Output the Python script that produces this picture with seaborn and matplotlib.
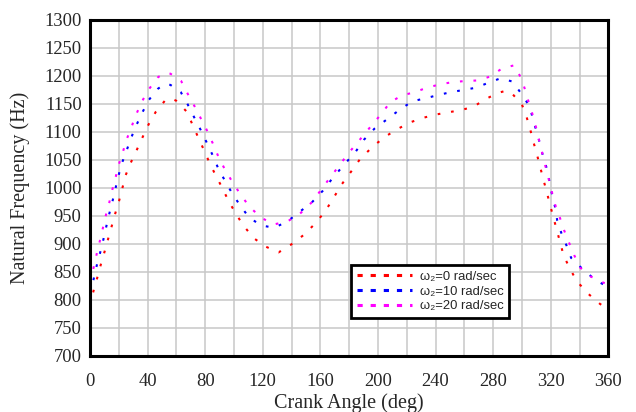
# Natural frequency vs crank angle for three shaft speeds
import seaborn as sns
import pandas as pd
import matplotlib.pyplot as plt
from matplotlib.lines import Line2D
from matplotlib.ticker import MultipleLocator

# omega2 = 0 rad/sec
angle_w0 = [0, 2.8, 5.3, 7.7, 10.2, 12.7, 15.1, 17.6, 20.2, 22.5, 24.8, 28.3, 32.5, 36.4,
            40.6, 45.7, 52.4, 56, 59.8, 67.3, 71.2, 75.2, 79.1, 83, 87.2, 91.9, 96, 101.1,
            106.5, 113.9, 122.3, 131, 139.7, 148.4, 157, 164, 169.3, 174.7, 181, 187.4, 196,
            204.6, 213.4, 222.2, 231, 239.9, 248.6, 257.5, 266.3, 274.9, 283.7, 288, 292.3,
            300, 303.2, 305.7, 308, 310.4, 312.7, 315, 317.3, 319.6, 322, 324.3, 326.6, 329,
            333.3, 338, 345.6, 354.2, 360]
freq_w0 = [790, 820, 842, 865, 887, 910, 932, 955, 977, 1000, 1023, 1045, 1068, 1090,
           1113, 1136, 1157, 1160, 1156, 1136, 1113, 1090, 1068, 1045, 1023, 1000, 978, 955,
           933, 910, 895, 885, 899, 916, 938, 961, 983, 1006, 1028, 1051, 1073,
           1091, 1105, 1117, 1125, 1131, 1135, 1139, 1145, 1159, 1170, 1173, 1171,
           1149, 1127, 1105, 1082, 1060, 1037, 1014, 992, 969, 946, 924, 902, 879,
           856, 834, 812, 793, 783]

# omega2 = 10 rad/sec
angle_w10 = [0, 2.8, 4.9, 7.2, 9.3, 11.3, 13.4, 15.5, 17.6, 19.7, 22, 25.3, 28.5, 32, 36.2,
             40.8, 47.1, 52, 55.9, 63.1, 67.7, 72.2, 76.8, 80.9, 85.1, 88.9, 93.5, 98.6,
             104.2, 110.6, 119, 128, 136.9, 145.4, 154, 161.7, 168.6, 176.3, 184.3, 190.2,
             197.6, 206.5, 215.2, 224, 232.9, 241.7, 250.5, 259.3, 268, 276.8, 285.3, 293.4,
             299.7, 305.5, 307.8, 310.4, 312.7, 314.8, 317.6, 319.2, 321, 323.1, 324.5,
             327.3, 331, 334.2, 342.6, 351.4, 360]
freq_w10 = [812, 840, 864, 886, 908, 931, 954, 975, 998, 1021, 1043, 1066, 1089, 1111, 1134,
            1157, 1177, 1186, 1184, 1171, 1150, 1127, 1104, 1082, 1059, 1036, 1014, 991,
            969, 947, 933, 929, 940, 957, 974, 995, 1018, 1041, 1064, 1086,
            1106, 1123, 1140, 1155, 1160, 1166, 1171, 1175, 1179, 1188, 1196, 1190,
            1168, 1145, 1121, 1099, 1077, 1055, 1032, 1010, 987, 965, 942,
            920, 897, 875, 854, 835, 823]

# omega2 = 20 rad/sec
angle_w20 = [0, 2.8, 4.9, 7, 9, 11.1, 13.4, 15.5, 17.9, 20, 22.8, 25.5, 28.8, 32.2, 36,
             40.8, 47.3, 53, 55.9, 63.3, 67.7, 72.6, 77, 81.4, 85.4, 89, 93.5, 98.8, 104.4,
             110.6, 118.8, 127.8, 136.9, 145.4, 154.3, 160, 166.3, 172.8, 179.5, 186.7,
             194.4, 201.6, 208.5, 216.4, 225.3, 234, 242.9, 251.7, 260.5, 269.3, 277.9,
             286.5, 294.6, 299.5, 302.5, 305, 307.8, 310.1, 312.2, 314.3, 316.4, 318.7,
             320.8, 323.1, 326.2, 329.2, 332.6, 336.3, 340.3, 347.7, 356.5, 360]
freq_w20 = [832, 861, 885, 907, 929, 952, 974, 997, 1020, 1042, 1064, 1087, 1109, 1132, 1154,
            1176, 1198, 1206, 1204, 1191, 1169, 1146, 1124, 1102, 1079, 1057, 1034, 1011, 989,
            967, 947, 935, 940, 953, 975, 995, 1017, 1039, 1062, 1084,
            1108, 1130, 1153, 1165, 1171, 1179, 1185, 1189, 1191, 1192, 1199,
            1214, 1219, 1196, 1173, 1150, 1128, 1105, 1082, 1060, 1038, 1015,
            993, 970, 948, 925, 903, 880, 858, 842, 831, 828]

labels = ["ω₂=0 rad/sec", "ω₂=10 rad/sec", "ω₂=20 rad/sec"]
colors = ["#ff0000", "#0000ff", "#ff00ff"]

sns.set_style("white")
plt.rcParams['font.family'] = ['Liberation Serif', 'DejaVu Serif']

fig = plt.figure(figsize=(6.36, 4.12), dpi=100)
ax = fig.add_axes([0.1415, 0.136, 0.815, 0.8155])

series = [(angle_w0, freq_w0), (angle_w10, freq_w10), (angle_w20, freq_w20)]
for (ang, fr), lab, col in zip(series, labels, colors):
    df = pd.DataFrame({"angle": ang, "freq": fr})
    sns.lineplot(data=df, x="angle", y="freq", ax=ax, color=col, lw=1.5,
                 sort=False, estimator=None, linestyle=(0, (1.3, 5.2)),
                 dash_capstyle="butt")

ax.set_xlim(0, 360)
ax.set_ylim(700, 1300)
ax.xaxis.set_major_locator(MultipleLocator(40))
ax.xaxis.set_minor_locator(MultipleLocator(20))
ax.yaxis.set_major_locator(MultipleLocator(50))
ax.grid(True, which="both", color="#c8c8c8", lw=1.1)
ax.set_axisbelow(True)
ax.tick_params(which="both", length=0, labelsize=13.3)
ax.tick_params(axis="y", pad=6)
ax.tick_params(axis="x", pad=12.5)
for sp in ax.spines.values():
    sp.set_visible(True)
    sp.set_color("black")
    sp.set_linewidth(2.2)

ax.set_xlabel("Crank Angle (deg)", fontsize=14.5, labelpad=2)
ax.set_ylabel("Natural Frequency (Hz)", fontsize=14.5, labelpad=10)

handles = [Line2D([0], [0], color=c, lw=2.2, linestyle=(0, (1.7, 2.6)), dash_capstyle="butt")
           for c in colors]
leg = ax.legend(handles, labels, loc="lower left", bbox_to_anchor=(0.491, 0.093),
                fancybox=False, framealpha=1, edgecolor="black", handlelength=4.2,
                handletextpad=0.6, labelspacing=0.2, borderpad=0.45,
                prop={"family": ["Liberation Sans", "DejaVu Sans"], "size": 9.4})
leg.get_frame().set_linewidth(2)

fig.savefig("out.png", dpi=100)
